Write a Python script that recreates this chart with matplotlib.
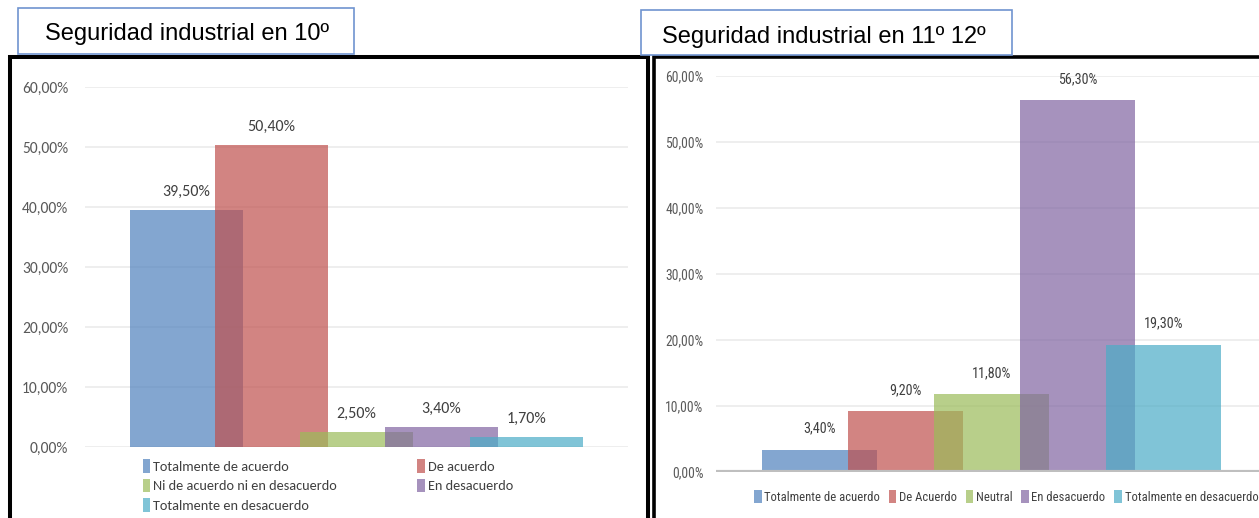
import matplotlib
matplotlib.use("Agg")
import matplotlib.pyplot as plt
from matplotlib.patches import Rectangle

W, H = 1259, 518

# Seguridad industrial en 10º
cats_10 = ["Totalmente de acuerdo", "De acuerdo", "Ni de acuerdo ni en desacuerdo",
           "En desacuerdo", "Totalmente en desacuerdo"]
vals_10 = [39.5, 50.4, 2.5, 3.4, 1.7]

# Seguridad industrial en 11º 12º
cats_11 = ["Totalmente de acuerdo", "De Acuerdo", "Neutral",
           "En desacuerdo", "Totalmente en desacuerdo"]
vals_11 = [3.4, 9.2, 11.8, 56.3, 19.3]

colors = ["#4F81BD", "#C0504D", "#9BBB59", "#8064A2", "#4BACC6"]
y_ticks = [0, 10, 20, 30, 40, 50, 60]

calibri = ["Carlito", "DejaVu Sans"]
condensed = ["Roboto Condensed", "Carlito", "DejaVu Sans"]


def pct(v):
    return f"{v:.2f}".replace(".", ",") + "%"


def box(x0, y0, x1, y1):
    # pixel box (origin top-left) -> figure fraction rect
    return [x0 / W, 1 - y1 / H, (x1 - x0) / W, (y1 - y0) / H]


def draw_bars(ax, vals, xlim, pad, font, label_size, tick_size):
    bars = []
    for i, v in enumerate(vals):
        b = ax.bar(i, v, width=1.335, color=colors[i], alpha=0.7, linewidth=0, zorder=2)
        bars.append(b)
        ax.bar_label(b, labels=[pct(v)], padding=pad, fontsize=label_size,
                     color="#404040", family=font)
    ax.set_xlim(*xlim)
    ax.set_ylim(0, 60)
    ax.set_yticks(y_ticks)
    ax.set_yticklabels([pct(t) for t in y_ticks], family=font, color="#595959",
                       fontsize=tick_size)
    ax.set_xticks([])
    ax.grid(axis="y", color="#EBEBEB", linewidth=1.2, zorder=0)
    for s in ax.spines.values():
        s.set_visible(False)
    ax.set_facecolor("none")
    return bars


fig = plt.figure(figsize=(W / 100, H / 100), dpi=100)
fig.patch.set_facecolor("white")

# outer frames
fig.add_artist(Rectangle((10 / W, -0.1), 638 / W, 1.1 - 57 / H, transform=fig.transFigure,
                         fill=False, edgecolor="black", linewidth=2.9))
fig.add_artist(Rectangle((653.5 / W, -0.1), 700 / W, 1.1 - 57.5 / H, transform=fig.transFigure,
                         fill=False, edgecolor="black", linewidth=2.6))

# left chart
ax1 = fig.add_axes(box(85, 87, 628, 447))
bars1 = draw_bars(ax1, vals_10, (-1.194, 5.194), 8, calibri, 11.5, 11.2)
ax1.tick_params(axis="y", length=0, pad=12)
order = [0, 2, 4, 1, 3]
ax1.legend([bars1[i] for i in order], [cats_10[i] for i in order], ncol=2,
           loc="upper left", bbox_to_anchor=(0.106, -0.034), frameon=False,
           prop={"family": calibri, "size": 10.3}, labelcolor="#404040",
           handlelength=0.55, handleheight=1.1, handletextpad=0.2,
           columnspacing=5.6, labelspacing=0.4, borderpad=0, borderaxespad=0)

# right chart
ax2 = fig.add_axes(box(716, 76, 1259, 472))
bars2 = draw_bars(ax2, vals_11, (-1.203, 5.111), 10, condensed, 10.2, 9.8)
ax2.tick_params(axis="y", length=0, pad=9)
ax2.axhline(0, color="#BFBFBF", linewidth=3, zorder=3)
ax2.legend(bars2, cats_11, ncol=5, loc="upper left", bbox_to_anchor=(0.07, -0.045),
           frameon=False, prop={"family": condensed, "size": 9.1}, labelcolor="#404040",
           handlelength=0.6, handleheight=1.2, handletextpad=0.2,
           columnspacing=0.7, borderpad=0, borderaxespad=0)

# title boxes
for (x0, y0, x1, y1), title, tx, dy in [((18, 8, 354, 54), "Seguridad industrial en 10º", 45, 3),
                                        ((641, 10, 1012, 55), "Seguridad industrial en 11º 12º", 662, 5)]:
    fig.add_artist(Rectangle((x0 / W, 1 - y1 / H), (x1 - x0) / W, (y1 - y0) / H,
                             transform=fig.transFigure, facecolor="white",
                             edgecolor="#7094D0", linewidth=1.2))
    fig.text(tx / W, 1 - ((y0 + y1) / 2 + dy) / H, title, fontsize=17,
             family="Liberation Sans", color="black", va="center", ha="left")

fig.savefig("out.png", dpi=100)
